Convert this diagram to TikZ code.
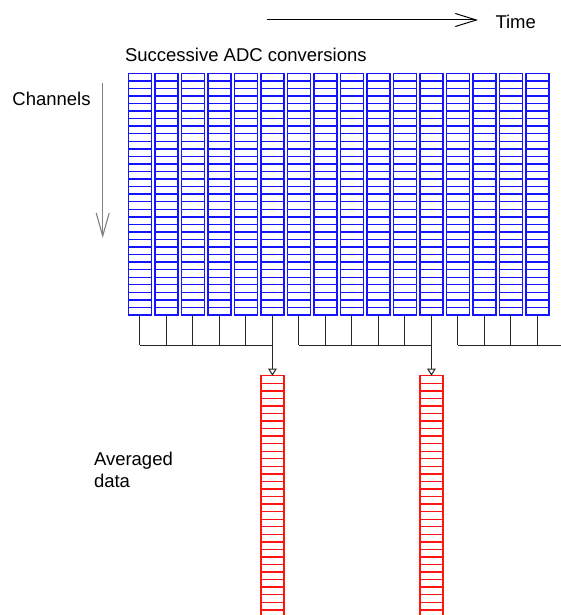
\documentclass[tikz,border=0pt]{standalone}
\usepackage{fontspec}
\setmainfont{Liberation Sans}
\usetikzlibrary{arrows.meta}
\definecolor{colblue}{RGB}{20,20,255}
\definecolor{colred}{RGB}{255,20,20}
\begin{document}
\begin{tikzpicture}[x=1pt,y=-1pt,
  txt/.style={inner sep=0pt, outer sep=0pt, anchor=base west, font=\fontsize{18.5}{22}\selectfont},
  colbox/.style={draw, line width=1.4pt, minimum height=241.7pt, inner sep=0pt, outer sep=0pt},
  rowline/.style={line width=1.4pt},
  conn/.style={draw=black!85, line width=1pt},
  darrow/.style={conn, -{Triangle[open, width=8.5pt, length=7pt]}},
  timearrow/.style={draw=black, line width=1pt, -{Straight Barb[length=21pt, width=13pt]}},
  chanarrow/.style={draw=gray, line width=1.1pt, -{Straight Barb[length=23pt, width=13pt]}}
]
\clip (0,0) rectangle (561,615);
\fill[white] (0,0) rectangle (561,615);

% texts
\node[txt] (time) at (495.5,28.3) {Time};
\node[txt] (succ) at (125,61.5) {Successive ADC conversions};
\node[txt] (chan) at (12.4,106) {Channels};
\node[txt] (avg1) at (94,465.7) {Averaged};
\node[txt] (avg2) at (94,487.2) {data};

% time and channel arrows
\coordinate (t0) at (267,20);
\coordinate (t1) at (478,20);
\draw[timearrow] (t0) -- (t1);
\coordinate (c0) at (102.7,83);
\coordinate (c1) at (102.7,238);
\draw[chanarrow] (c0) -- (c1);

% blue columns
\begin{scope}[color=colblue]
\foreach \k in {0,...,15} {
  \pgfmathsetmacro\myxl{128.3+\k*26.5}
  \node[colbox, minimum width=23.3pt, anchor=north west] (b\k) at (\myxl,73.3) {};
  \draw[rowline] \foreach \i in {1,...,31} {
    ([yshift=-\i*7.553pt]b\k.north west) -- ([yshift=-\i*7.553pt]b\k.north east)};
}
\end{scope}

% red columns
\begin{scope}[color=colred]
\node[colbox, minimum width=23.3pt, anchor=north] (r1) at (272.45,375.7) {};
\node[colbox, minimum width=23.3pt, anchor=north] (r2) at (431.45,375.7) {};
\foreach \r in {r1,r2} {
  \draw[rowline] \foreach \i in {1,...,31} {
    ([yshift=-\i*7.553pt]\r.north west) -- ([yshift=-\i*7.553pt]\r.north east)};
}
\end{scope}

% bus connectors
\coordinate (busy) at (0,345);
\coordinate (busend) at (561,345);
\foreach \k in {0,...,15}
  \draw[conn] (b\k.south) -- (b\k.south |- busy);
\draw[conn] (b0.south |- busy) -- (b5.south |- busy);
\draw[conn] (b6.south |- busy) -- (b11.south |- busy);
\draw[conn] (b12.south |- busy) -- (busend);
\draw[darrow] (b5.south |- busy) -- (r1.north);
\draw[darrow] (b11.south |- busy) -- (r2.north);
\end{tikzpicture}
\end{document}
